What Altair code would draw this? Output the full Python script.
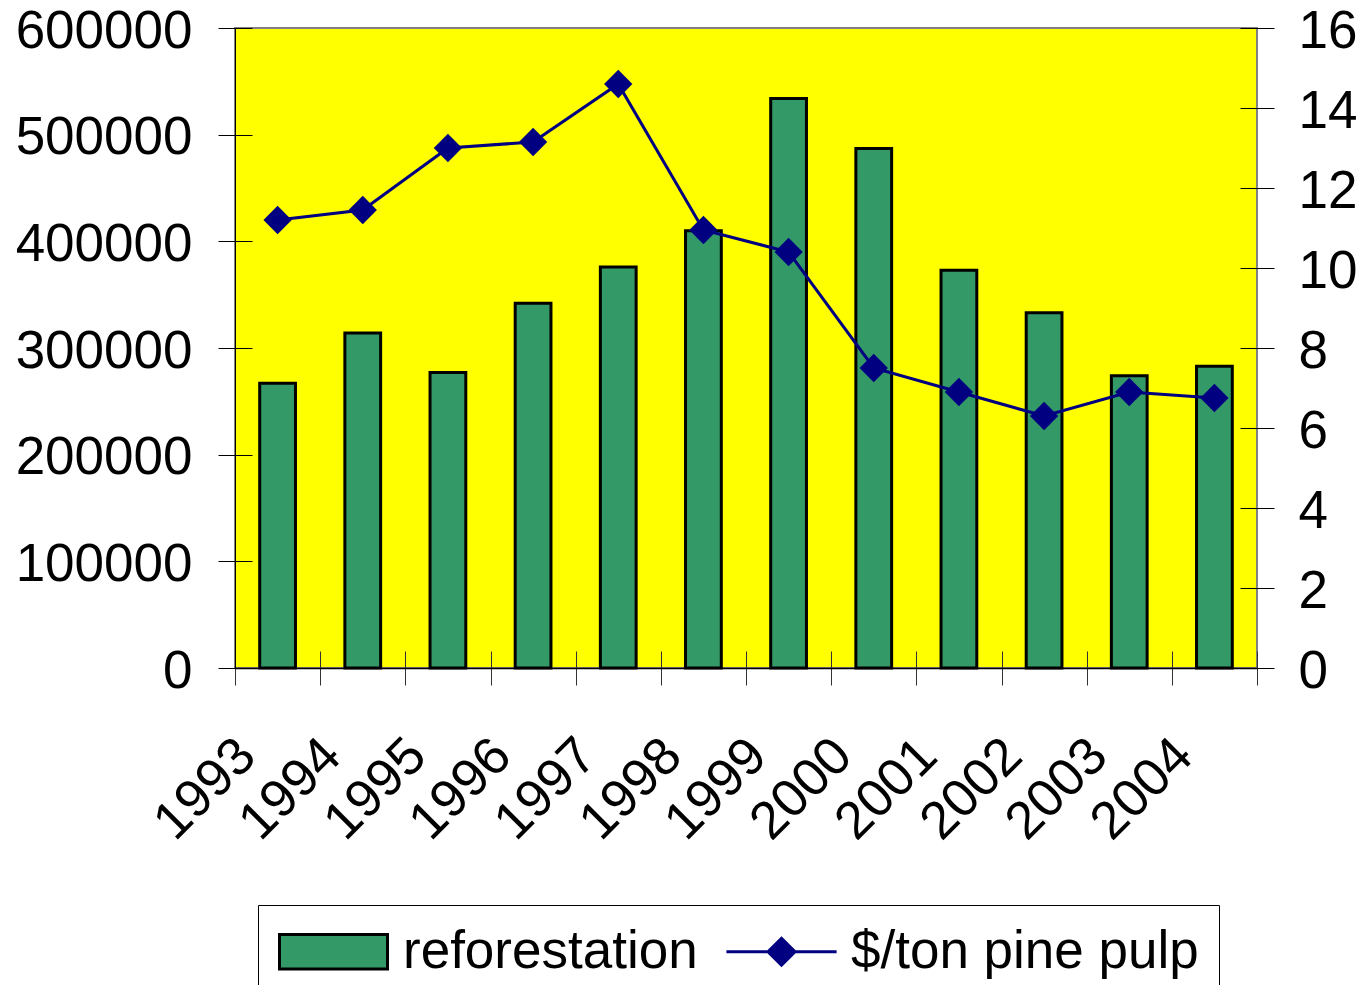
import altair as alt
import pandas as pd

years = ["1993", "1994", "1995", "1996", "1997", "1998",
         "1999", "2000", "2001", "2002", "2003", "2004"]
reforestation = [267000, 314000, 277000, 342000, 376000, 410000,
                 534000, 487000, 373000, 333000, 274000, 283000]
pulp_price = [11.2, 11.45, 13.0, 13.15, 14.6, 10.95,
              10.4, 7.5, 6.9, 6.3, 6.9, 6.75]
series_names = ["reforestation", "$/ton pine pulp"]
left_ticks = [0, 100000, 200000, 300000, 400000, 500000, 600000]
right_ticks = [0, 2, 4, 6, 8, 10, 12, 14, 16]

df = pd.DataFrame({"year": years, "reforestation": reforestation, "pulp": pulp_price})
legend_df = pd.DataFrame({"series": series_names})

FONT = "Liberation Sans"
FS = 53
GREEN = "#339966"
NAVY = "#000080"

x_axis = alt.Axis(
    title=None, labelAngle=-45, labelAlign="right", labelBaseline="middle",
    labelFont=FONT, labelFontSize=FS, labelColor="black", labelPadding=62,
    labelOffset=-31, labelOverlap=False, tickBand="extent", tickSize=17,
    tickColor="#333333", tickWidth=1, domainColor="black", domainWidth=1.5,
    grid=True, gridColor="#333333", gridWidth=1, gridDash=[17, 623], gridDashOffset=17,
)
x_enc = alt.X("year:O", sort=years,
              scale=alt.Scale(paddingInner=0, paddingOuter=0), axis=x_axis)

left_axis = alt.Axis(
    title=None, orient="left", values=left_ticks, format="d",
    labelFont=FONT, labelFontSize=FS, labelColor="black", labelPadding=26,
    labelOffset=3,
    tickSize=17, tickColor="black", tickWidth=1, domainColor="black", domainWidth=1,
    grid=True, gridColor="black", gridWidth=1, gridDash=[17, 3000],
)
right_axis = alt.Axis(
    title=None, orient="right", values=right_ticks, format="d",
    labelFont=FONT, labelFontSize=FS, labelColor="black", labelPadding=24,
    labelOffset=3,
    tickSize=17, tickColor="black", tickWidth=1, domain=False,
    grid=True, gridColor="black", gridWidth=1, gridDash=[17, 3000],
)

bars = alt.Chart(df).mark_bar(
    width={"band": 0.42}, fill=GREEN, stroke="black", strokeWidth=3
).encode(
    x=x_enc,
    y=alt.Y("reforestation:Q", scale=alt.Scale(domain=[0, 600000], nice=False), axis=left_axis),
)

right_scale = alt.Scale(domain=[0, 16], nice=False)
line = alt.Chart(df).mark_line(color=NAVY, strokeWidth=3).encode(
    x=x_enc,
    y=alt.Y("pulp:Q", scale=right_scale, axis=right_axis),
)
points = alt.Chart(df).mark_point(
    shape="diamond", filled=True, size=800, color=NAVY, opacity=1, strokeWidth=1
).encode(
    x=x_enc,
    y=alt.Y("pulp:Q", scale=right_scale, axis=right_axis),
)

rect_path = "M-1,-0.32H1V0.32H-1Z"
line_path = "M-1.02,0H1.02M0,-0.25L0.25,0L0,0.25L-0.25,0Z"

legend = alt.Legend(
    title=None, orient="none", legendX=23, legendY=877, direction="horizontal",
    padding=20, strokeColor="black", labelFont=FONT, labelFontSize=FS,
    labelColor="black", labelLimit=3000, labelOffset=14, columnPadding=28,
    symbolSize=11664, symbolStrokeWidth=3, symbolOpacity=1, clipHeight=53,
)

legend_layer = alt.Chart(legend_df).mark_point(opacity=0, filled=True, strokeWidth=3).encode(
    shape=alt.Shape("series:N", scale=alt.Scale(domain=series_names, range=[rect_path, line_path]), legend=legend),
    fill=alt.Fill("series:N", scale=alt.Scale(domain=series_names, range=[GREEN, NAVY]), legend=legend),
    stroke=alt.Stroke("series:N", scale=alt.Scale(domain=series_names, range=["black", NAVY]), legend=legend),
)

chart = alt.layer(bars, alt.layer(line, points), legend_layer).resolve_scale(
    y="independent"
).properties(
    width=1022, height=640,
    padding={"left": 227, "top": 20, "right": 100, "bottom": 317},
    autosize=alt.AutoSizeParams(type="none"),
    view=alt.ViewBackground(fill="#FFFF00", stroke="#808080", strokeWidth=2),
).configure_view(fill="#FFFF00", stroke="#808080", strokeWidth=2)

chart.save("out.html", embed_options={"renderer": "svg", "actions": False})
